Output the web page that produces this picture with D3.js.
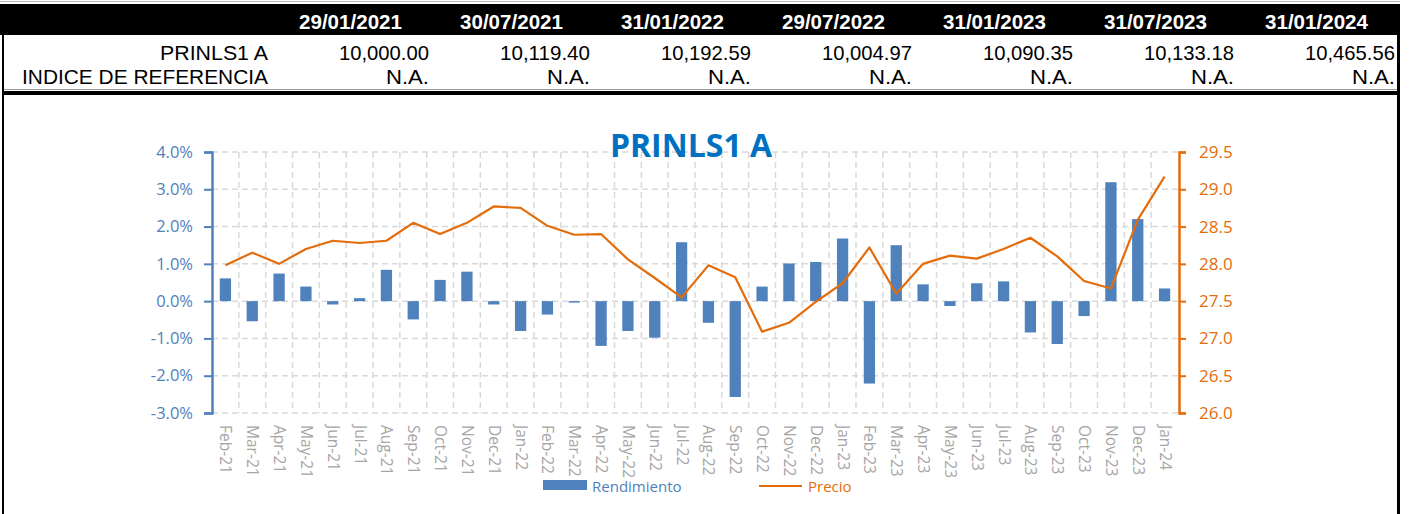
<!DOCTYPE html>
<html>
<head>
<meta charset="utf-8">
<script src="https://cdn.jsdelivr.net/npm/d3@7"></script>
<style>
  body { margin: 0; background: #fff; }
  svg { display: block; }
  .hdr { font-family: "Liberation Sans Narrow", "Arial Narrow", "Liberation Sans", Arial, sans-serif; }
  .chart text { font-family: "Open Sans", "Noto Sans", sans-serif; }
</style>
</head>
<body>
<div id="graphContainer"></div>
<script>
// tabla de cabecera
const fechas = ["29/01/2021", "30/07/2021", "31/01/2022", "29/07/2022", "31/01/2023", "31/07/2023", "31/01/2024"];
const valoresFondo = ["10,000.00", "10,119.40", "10,192.59", "10,004.97", "10,090.35", "10,133.18", "10,465.56"];
const valoresIndice = ["N.A.", "N.A.", "N.A.", "N.A.", "N.A.", "N.A.", "N.A."];

// datos del grafico
const meses = ["Feb-21", "Mar-21", "Apr-21", "May-21", "Jun-21", "Jul-21", "Aug-21", "Sep-21", "Oct-21", "Nov-21", "Dec-21", "Jan-22",
  "Feb-22", "Mar-22", "Apr-22", "May-22", "Jun-22", "Jul-22", "Aug-22", "Sep-22", "Oct-22", "Nov-22", "Dec-22", "Jan-23",
  "Feb-23", "Mar-23", "Apr-23", "May-23", "Jun-23", "Jul-23", "Aug-23", "Sep-23", "Oct-23", "Nov-23", "Dec-23", "Jan-24"];
const rendimiento = [0.61, -0.54, 0.74, 0.39, -0.09, 0.08, 0.84, -0.49, 0.57, 0.79, -0.09, -0.80,
  -0.36, -0.04, -1.20, -0.80, -0.98, 1.58, -0.58, -2.57, 0.39, 1.01, 1.05, 1.68,
  -2.21, 1.50, 0.45, -0.13, 0.48, 0.53, -0.84, -1.15, -0.40, 3.19, 2.20, 0.34];
const precio = [27.98, 28.15, 28.00, 28.20, 28.31, 28.28, 28.31, 28.55, 28.40, 28.55, 28.77, 28.75,
  28.51, 28.39, 28.40, 28.06, 27.81, 27.55, 27.98, 27.82, 27.09, 27.21, 27.49, 27.74,
  28.22, 27.60, 28.00, 28.11, 28.07, 28.20, 28.35, 28.10, 27.77, 27.67, 28.59, 29.17];
const ticksIzq = [-3, -2, -1, 0, 1, 2, 3, 4];
const ticksDer = [26.0, 26.5, 27.0, 27.5, 28.0, 28.5, 29.0, 29.5];

const azul = "#4F81BD";
const naranja = "#E46C0A";
const gris = "#D9D9D9";

const svg = d3.select("#graphContainer")
  .append("svg")
  .attr("width", 1410)
  .attr("height", 514);

// ---- cabecera ----
const hdr = svg.append("g").attr("class", "hdr");
hdr.append("line").attr("x1", 0).attr("x2", 1400).attr("y1", 1.5).attr("y2", 1.5)
  .attr("stroke", "#bbb").attr("stroke-width", 1);
hdr.append("rect").attr("x", 0).attr("y", 4).attr("width", 1400).attr("height", 31).attr("fill", "#000");

const colX = d3.scaleBand().domain(fechas).range([270, 1397]);

hdr.selectAll("text.fecha")
  .data(fechas)
  .enter()
  .append("text")
  .attr("class", "fecha")
  .attr("x", (d) => colX(d) + colX.bandwidth() / 2)
  .attr("y", 29)
  .attr("text-anchor", "middle")
  .attr("fill", "#fff")
  .attr("font-weight", "bold")
  .attr("font-size", 21)
  .attr("textLength", 103)
  .attr("lengthAdjust", "spacingAndGlyphs")
  .text((d) => d);

const filas = [
  { nombre: "PRINLS1 A", valores: valoresFondo, y: 60, ancho: 108 },
  { nombre: "INDICE DE REFERENCIA", valores: valoresIndice, y: 84, ancho: 246 }
];

filas.forEach((f) => {
  hdr.append("text")
    .attr("x", 268)
    .attr("y", f.y)
    .attr("text-anchor", "end")
    .attr("font-size", 21)
    .attr("textLength", f.ancho)
    .attr("lengthAdjust", "spacingAndGlyphs")
    .text(f.nombre);
  hdr.selectAll(null)
    .data(f.valores)
    .enter()
    .append("text")
    .attr("x", (d, i) => colX(fechas[i]) + colX.bandwidth() - 2)
    .attr("y", f.y)
    .attr("text-anchor", "end")
    .attr("font-size", 21)
    .attr("textLength", (d) => (d === "N.A." ? 43 : 90))
    .attr("lengthAdjust", "spacingAndGlyphs")
    .text((d) => d);
});

hdr.append("line").attr("x1", 3).attr("x2", 1398).attr("y1", 89.5).attr("y2", 89.5)
  .attr("stroke", "#999").attr("stroke-width", 1);
hdr.append("rect").attr("x", 3).attr("y", 91).attr("width", 1397).attr("height", 4).attr("fill", "#000");
hdr.append("rect").attr("x", 2).attr("y", 35).attr("width", 2).attr("height", 479).attr("fill", "#000");
hdr.append("rect").attr("x", 1397).attr("y", 35).attr("width", 3).attr("height", 479).attr("fill", "#000");

// ---- grafico ----
const g = svg.append("g").attr("class", "chart");

const xScale = d3.scaleBand()
  .domain(meses)
  .range([212, 1178])
  .paddingInner(0.58)
  .paddingOuter(0.29);
const step = xScale.step();
const xCentro = (d) => xScale(d) + xScale.bandwidth() / 2;

const yIzq = d3.scaleLinear().domain([-3, 4]).range([413, 152]);
const yDer = d3.scaleLinear().domain([26, 29.5]).range([413, 152]);

// rejilla horizontal
g.selectAll("line.hgrid")
  .data(ticksIzq)
  .enter()
  .append("line")
  .attr("class", "hgrid")
  .attr("x1", 212)
  .attr("x2", 1178)
  .attr("y1", (d) => yIzq(d))
  .attr("y2", (d) => yIzq(d))
  .attr("stroke", gris)
  .attr("stroke-width", 1.5)
  .attr("stroke-dasharray", "6,4");

// rejilla vertical entre categorias
g.selectAll("line.vgrid")
  .data(meses.slice(1))
  .enter()
  .append("line")
  .attr("class", "vgrid")
  .attr("x1", (d) => xCentro(d) - step / 2)
  .attr("x2", (d) => xCentro(d) - step / 2)
  .attr("y1", 152)
  .attr("y2", 413)
  .attr("stroke", gris)
  .attr("stroke-width", 1.5)
  .attr("stroke-dasharray", "6,4");

// barras
g.selectAll("rect.bar")
  .data(meses)
  .enter()
  .append("rect")
  .attr("class", "bar")
  .attr("x", (d) => xScale(d))
  .attr("width", xScale.bandwidth())
  .attr("y", (d, i) => yIzq(Math.max(0, rendimiento[i])))
  .attr("height", (d, i) => Math.abs(yIzq(rendimiento[i]) - yIzq(0)))
  .attr("fill", azul);

// linea de precio
const linea = d3.line()
  .x((d, i) => xCentro(meses[i]))
  .y((d) => yDer(d));

g.append("path")
  .datum(precio)
  .attr("d", linea)
  .attr("fill", "none")
  .attr("stroke", naranja)
  .attr("stroke-width", 2.2)
  .attr("stroke-linejoin", "round");

// eje izquierdo (guion normal en los negativos, como en Excel)
const ejeIzq = d3.axisLeft(yIzq)
  .tickValues(ticksIzq)
  .tickSize(8)
  .tickPadding(11)
  .tickFormat((d) => d.toFixed(1) + "%");
const gIzq = g.append("g").attr("transform", "translate(212,0)").call(ejeIzq);
gIzq.select(".domain").attr("stroke", azul).attr("stroke-width", 2.5);
gIzq.selectAll(".tick line").attr("stroke", azul).attr("stroke-width", 2);
gIzq.selectAll(".tick text").attr("fill", azul).attr("font-size", 16.5);

// eje derecho
const ejeDer = d3.axisRight(yDer)
  .tickValues(ticksDer)
  .tickSize(7)
  .tickPadding(13)
  .tickFormat((d) => d.toFixed(1));
const gDer = g.append("g").attr("transform", "translate(1179,0)").call(ejeDer);
gDer.select(".domain").attr("stroke", naranja).attr("stroke-width", 2.5);
gDer.selectAll(".tick line").attr("stroke", naranja).attr("stroke-width", 2);
gDer.selectAll(".tick text").attr("fill", naranja).attr("font-size", 17);

// etiquetas de meses
g.selectAll("text.mes")
  .data(meses)
  .enter()
  .append("text")
  .attr("class", "mes")
  .attr("transform", (d) => `translate(${xCentro(d) - 5},425) rotate(90)`)
  .attr("fill", "#A6A6A6")
  .attr("font-size", 15.5)
  .text((d) => d);

// titulo
g.append("text")
  .attr("x", 691)
  .attr("y", 157)
  .attr("text-anchor", "middle")
  .attr("fill", "#0070C0")
  .attr("font-weight", "bold")
  .attr("font-size", 32)
  .text("PRINLS1 A");

// leyenda
g.append("rect").attr("x", 543).attr("y", 480).attr("width", 44).attr("height", 10).attr("fill", azul);
g.append("text").attr("x", 592).attr("y", 492).attr("fill", azul).attr("font-size", 15).text("Rendimiento");
g.append("line").attr("x1", 759).attr("x2", 802).attr("y1", 486).attr("y2", 486)
  .attr("stroke", naranja).attr("stroke-width", 2.2);
g.append("text").attr("x", 808).attr("y", 492).attr("fill", naranja).attr("font-size", 15).text("Precio");
</script>
</body>
</html>
